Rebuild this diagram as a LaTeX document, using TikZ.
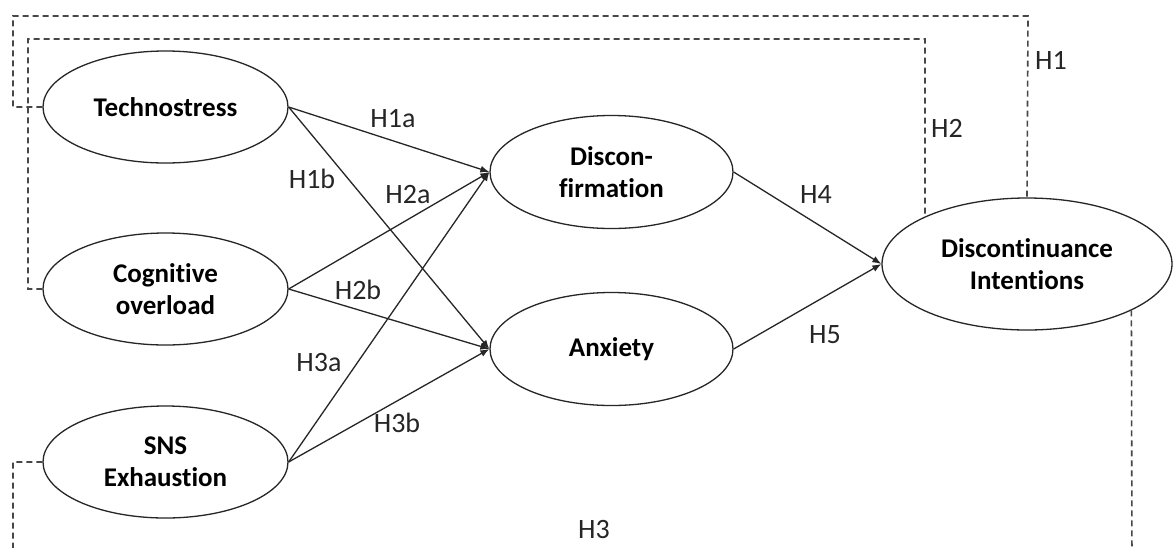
\documentclass[tikz,border=0pt]{standalone}
\usepackage{fontspec}
\setmainfont{Carlito}[Ligatures=NoCommon]
\usetikzlibrary{shapes.geometric,arrows.meta}
\begin{document}
\begin{tikzpicture}[x=1pt,y=-1pt,
  latent/.style={ellipse,draw=black!85,line width=1.3pt,inner sep=0pt,
     align=center,font=\fontsize{27}{32}\selectfont\bfseries},
  small/.style={latent,minimum width=245pt,minimum height=112pt},
  mid/.style={latent,minimum width=243pt,minimum height=113pt},
  big/.style={latent,minimum width=290pt,minimum height=132pt},
  path/.style={draw=black!85,line width=1.3pt,-{Latex[length=9pt,width=7pt]}},
  hyp/.style={draw=black!72,line width=1.6pt,dash pattern=on 6pt off 4pt},
  lab/.style={font=\fontsize{28}{32}\selectfont,text=black!85,inner sep=0pt}]
\useasboundingbox (0,0) rectangle (1173,547);
\clip (0,0) rectangle (1173,547);
\fill[white] (0,0) rectangle (1173,547);

\node[small] (tech) at (165.5,107) {Technostress};
\node[small] (cog) at (165.5,289) {Cognitive\\overload};
\node[small] (sns) at (165.5,462) {SNS\\Exhaustion};
\node[mid] (dis) at (611.5,172) {Discon-\\firmation};
\node[mid] (anx) at (611.5,349) {Anxiety};
\node[big] (di) at (1027,264) {Discontinuance\\Intentions};

\draw[path] (tech.east) -- (dis.west);
\draw[path] (tech.east) -- (anx.west);
\draw[path] (cog.east) -- (dis.west);
\draw[path] (cog.east) -- (anx.west);
\draw[path] (sns.east) -- (dis.west);
\draw[path] (sns.east) -- (anx.west);
\draw[path] (dis.east) -- (di.west);
\draw[path] (anx.east) -- (di.west);

\draw[hyp] (tech.west) -- (13,107) -- (13,16) -- (1028,16) -- (di.north);
\draw[hyp] (cog.west) -- (28,289) -- (28,39) -- (925,39) -- (di.155.3);
\draw[hyp] (sns.west) -- (13,462) -- (13,570) -- (1132,570) -- (di.336.6);

\node[lab] (l1a) at (393,119) {H1a};
\node[lab] (l1b) at (312,179) {H1b};
\node[lab] (l2a) at (408,195) {H2a};
\node[lab] (l2b) at (358,290) {H2b};
\node[lab] (l3a) at (319,363) {H3a};
\node[lab] (l3b) at (397,423) {H3b};
\node[lab] (l4) at (816,195) {H4};
\node[lab] (l5) at (825,335) {H5};
\node[lab] (l1) at (1051,60) {H1};
\node[lab] (l2) at (947,128) {H2};
\node[lab] (l3) at (594,530) {H3};
\end{tikzpicture}
\end{document}
